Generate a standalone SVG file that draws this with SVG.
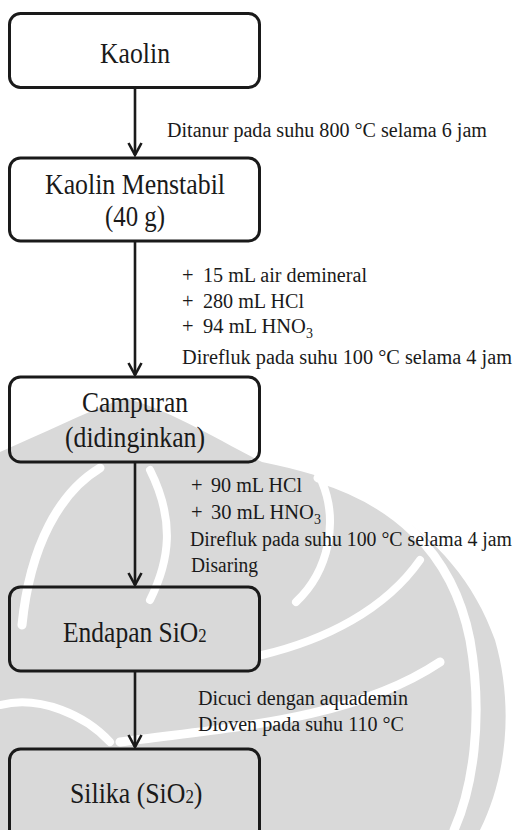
<svg xmlns="http://www.w3.org/2000/svg" width="520" height="830" viewBox="0 0 520 830">
<style>
.box{fill:none;stroke:#1a1a1a;stroke-width:3}
.nt{font-family:"Liberation Serif",serif;font-size:29px;fill:#1a1a1a}
.lt{font-family:"Liberation Serif",serif;font-size:20.5px;fill:#1a1a1a}
.sub{font-size:14px}
.nsub{font-size:19px}
.edge{stroke:#1a1a1a;stroke-width:2.6;fill:none}
.wm{fill:#d9d9d9}
.wb{fill:none;stroke:#ffffff;stroke-linecap:round}
</style>
<defs>
<marker id="arr" markerUnits="userSpaceOnUse" viewBox="-15 -9 17 18" refX="0" refY="0" markerWidth="17" markerHeight="18" orient="auto">
<path d="M-12,-6.5 L0,0 L-12,6.5" fill="none" stroke="#1a1a1a" stroke-width="2.6" stroke-linejoin="miter"/>
</marker>
</defs>
<rect width="520" height="830" fill="#ffffff"/>
<g id="watermark">
<path class="wm" d="M0,452 C40,435 85,412 125,398 C165,408 215,438 262,462 C300,470 330,478 350,490 C420,520 470,570 495,640 C515,710 505,780 480,830 L0,830 Z"/>
<path class="wb" stroke-width="9" d="M318,478 C390,500 452,548 470,640 C484,720 472,790 454,830"/>
<path class="wb" stroke-width="9" d="M120,742 C220,728 350,722 440,662"/>
<path class="wb" stroke-width="8" d="M262,655 C325,640 385,610 420,560"/>
<path class="wb" stroke-width="8" d="M322,482 C338,520 330,570 296,602"/>
<path class="wb" stroke-width="9" d="M22,625 C30,545 60,492 100,468"/>
<path class="wb" stroke-width="8" d="M150,470 C175,520 170,560 150,600"/>
<path class="wb" stroke-width="8" d="M0,705 C40,695 85,715 110,742"/>
</g>
<g id="connectors">
<line class="edge" x1="135" y1="88" x2="135" y2="155" marker-end="url(#arr)"/>
<line class="edge" x1="135" y1="242" x2="135" y2="375" marker-end="url(#arr)"/>
<line class="edge" x1="135" y1="463" x2="135" y2="585" marker-end="url(#arr)"/>
<line class="edge" x1="135" y1="672" x2="135" y2="747" marker-end="url(#arr)"/>
</g>
<g id="node-kaolin">
<rect class="box" x="9.5" y="13.5" width="250" height="74" rx="11"/>
<text class="nt" x="100" y="63" textLength="70" lengthAdjust="spacingAndGlyphs">Kaolin</text>
</g>
<g id="node-kaolin-menstabil">
<rect class="box" x="9.5" y="158" width="250" height="83" rx="11"/>
<text class="nt" x="45" y="194" textLength="180" lengthAdjust="spacingAndGlyphs">Kaolin Menstabil</text>
<text class="nt" x="105" y="226" textLength="60" lengthAdjust="spacingAndGlyphs">(40 g)</text>
</g>
<g id="node-campuran">
<rect class="box" x="9.5" y="377" width="250" height="85" rx="11"/>
<text class="nt" x="82" y="412" textLength="106" lengthAdjust="spacingAndGlyphs">Campuran</text>
<text class="nt" x="65" y="447" textLength="140" lengthAdjust="spacingAndGlyphs">(didinginkan)</text>
</g>
<g id="node-endapan">
<rect class="box" x="9.5" y="587" width="250" height="84" rx="11"/>
<text class="nt" transform="translate(63,642) scale(0.88,1)">Endapan SiO<tspan class="nsub">2</tspan></text>
</g>
<g id="node-silika">
<rect class="box" x="9.5" y="749" width="250" height="100" rx="11"/>
<text class="nt" transform="translate(70,803) scale(0.89,1)">Silika (SiO<tspan class="nsub">2</tspan>)</text>
</g>
<g id="labels">
<text class="lt" x="167" y="137" textLength="320" lengthAdjust="spacingAndGlyphs">Ditanur pada suhu 800 °C selama 6 jam</text>
<text class="lt" x="182" y="282">+</text><text class="lt" x="203" y="282" textLength="164" lengthAdjust="spacingAndGlyphs">15 mL air demineral</text>
<text class="lt" x="182" y="308">+</text><text class="lt" x="203" y="308" textLength="101" lengthAdjust="spacingAndGlyphs">280 mL HCl</text>
<text class="lt" x="182" y="333">+</text><text class="lt" x="203" y="333" font-size="20">94 mL HNO<tspan class="sub" dy="5">3</tspan></text>
<text class="lt" x="182" y="364" font-size="20" textLength="330" lengthAdjust="spacingAndGlyphs">Direfluk pada suhu 100 °C selama 4 jam</text>
<text class="lt" x="191" y="492">+</text><text class="lt" x="211" y="492" textLength="91" lengthAdjust="spacingAndGlyphs">90 mL HCl</text>
<text class="lt" x="191" y="519">+</text><text class="lt" x="211" y="519" font-size="20">30 mL HNO<tspan class="sub" dy="5">3</tspan></text>
<text class="lt" x="190" y="546" font-size="19" textLength="322" lengthAdjust="spacingAndGlyphs">Direfluk pada suhu 100 °C selama 4 jam</text>
<text class="lt" x="191" y="572" textLength="67" lengthAdjust="spacingAndGlyphs">Disaring</text>
<text class="lt" x="198" y="705" textLength="210" lengthAdjust="spacingAndGlyphs">Dicuci dengan aquademin</text>
<text class="lt" x="198" y="731" textLength="206" lengthAdjust="spacingAndGlyphs">Dioven pada suhu 110 °C</text>
</g>
</svg>
